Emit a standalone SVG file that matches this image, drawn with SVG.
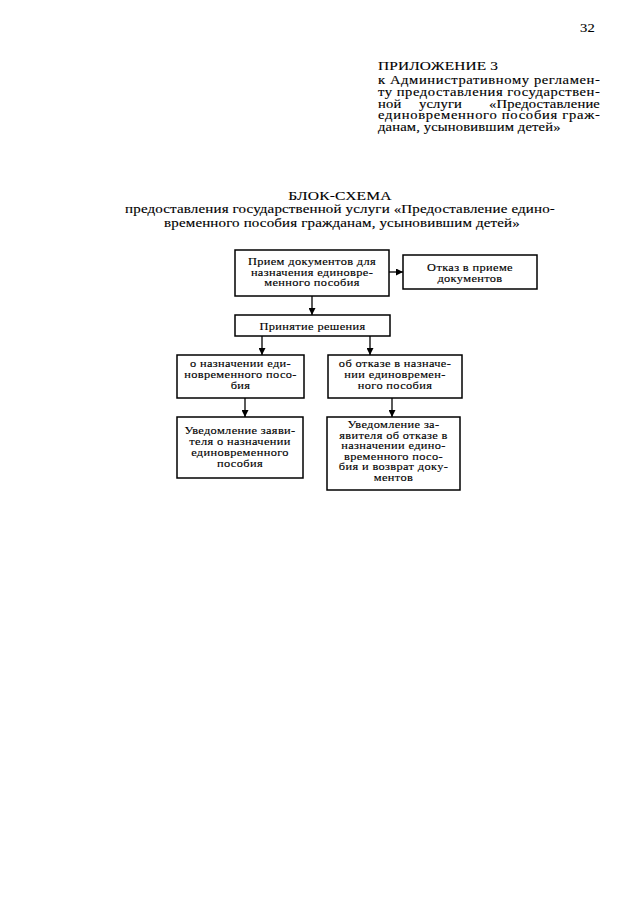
<svg xmlns="http://www.w3.org/2000/svg" width="640" height="905" viewBox="0 0 640 905">
<style>
text{font-family:"Liberation Serif","Times New Roman",serif;fill:#000;stroke:#000;stroke-width:0.15}
.h{font-size:14.6px;letter-spacing:0.15px}
.t{font-size:15px;letter-spacing:0.15px;text-anchor:middle}
.b{font-size:12.4px;letter-spacing:0.35px;text-anchor:middle}
.box{fill:#fff;stroke:#000;stroke-width:1.5}
.c{stroke:#000;stroke-width:1.3;fill:none}
</style>
<defs>
<marker id="ah" viewBox="0 0 8 8" refX="8" refY="4" markerWidth="7" markerHeight="7" markerUnits="userSpaceOnUse" orient="auto">
<path d="M0,0 L8,4 L0,8 z" fill="#000"/>
</marker>
</defs>
<rect width="640" height="905" fill="#fff"/>
<g id="header">
<text class="h" transform="translate(580,32) scale(1,0.8)">32</text>
<text class="h" transform="translate(378,70) scale(1,0.8)" style="font-size:15.4px">ПРИЛОЖЕНИЕ 3</text>
<text class="h" transform="translate(378,84) scale(1,0.8)"><tspan x="0" y="0" textLength="222" lengthAdjust="spacing">к Административному регламен-</tspan><tspan x="0" y="14.75" textLength="222" lengthAdjust="spacing">ту предоставления государствен-</tspan><tspan x="0" y="29.5">ной</tspan><tspan x="41" y="29.5">услуги</tspan><tspan x="222" y="29.5" text-anchor="end">«Предоставление</tspan><tspan x="0" y="44.25" textLength="222" lengthAdjust="spacing">единовременного пособия граж-</tspan><tspan x="0" y="59">данам, усыновившим детей»</tspan></text>
</g>
<g id="title">
<text class="t" transform="translate(340,200) scale(1,0.8)" style="font-size:15.6px">БЛОК-СХЕМА</text>
<text class="t" transform="translate(340,213) scale(1,0.8)"><tspan x="0" y="0">предоставления государственной услуги «Предоставление едино-</tspan><tspan x="2" y="17.5">временного пособия гражданам, усыновившим детей»</tspan></text>
</g>
<g id="connectors">
<line class="c" x1="389" y1="272" x2="403" y2="272" marker-end="url(#ah)"/>
<line class="c" x1="312" y1="296" x2="312" y2="315" marker-end="url(#ah)"/>
<line class="c" x1="262" y1="336" x2="262" y2="355" marker-end="url(#ah)"/>
<line class="c" x1="370" y1="336" x2="370" y2="355" marker-end="url(#ah)"/>
<line class="c" x1="245" y1="398" x2="245" y2="417" marker-end="url(#ah)"/>
<line class="c" x1="392" y1="398" x2="392" y2="417" marker-end="url(#ah)"/>
</g>
<g id="n1">
<rect class="box" x="235" y="250" width="154" height="46"/>
<text class="b" transform="translate(312,265) scale(1,0.85)"><tspan x="0" y="0">Прием документов для</tspan><tspan x="0" dy="12.4">назначения единовре-</tspan><tspan x="0" dy="12.4">менного пособия</tspan></text>
</g>
<g id="n2">
<rect class="box" x="403" y="255" width="134" height="34"/>
<text class="b" transform="translate(470,271) scale(1,0.85)"><tspan x="0" y="0">Отказ в приеме</tspan><tspan x="0" dy="12.4">документов</tspan></text>
</g>
<g id="n3">
<rect class="box" x="235" y="315" width="155" height="21"/>
<text class="b" transform="translate(312.5,329.5) scale(1,0.85)">Принятие решения</text>
</g>
<g id="n4">
<rect class="box" x="177" y="355" width="127" height="43"/>
<text class="b" transform="translate(240.5,367) scale(1,0.85)"><tspan x="0" y="0">о назначении еди-</tspan><tspan x="0" dy="12.9">новременного посо-</tspan><tspan x="0" dy="12.9">бия</tspan></text>
</g>
<g id="n5">
<rect class="box" x="177" y="417" width="126" height="61"/>
<text class="b" transform="translate(240,434) scale(1,0.85)"><tspan x="0" y="0">Уведомление заяви-</tspan><tspan x="0" dy="12.9">теля о назначении</tspan><tspan x="0" dy="12.9">единовременного</tspan><tspan x="0" dy="12.9">пособия</tspan></text>
</g>
<g id="n6">
<rect class="box" x="328" y="355" width="134" height="43"/>
<text class="b" transform="translate(395,367) scale(1,0.85)"><tspan x="0" y="0">об отказе в назначе-</tspan><tspan x="0" dy="12.9">нии единовремен-</tspan><tspan x="0" dy="12.9">ного пособия</tspan></text>
</g>
<g id="n7">
<rect class="box" x="327" y="417" width="133" height="73"/>
<text class="b" transform="translate(393.5,428) scale(1,0.85)"><tspan x="0" y="0">Уведомление за-</tspan><tspan x="0" dy="12.4">явителя об отказе в</tspan><tspan x="0" dy="12.4">назначении едино-</tspan><tspan x="0" dy="12.4">временного посо-</tspan><tspan x="0" dy="12.4">бия и возврат доку-</tspan><tspan x="0" dy="12.4">ментов</tspan></text>
</g>
</svg>
